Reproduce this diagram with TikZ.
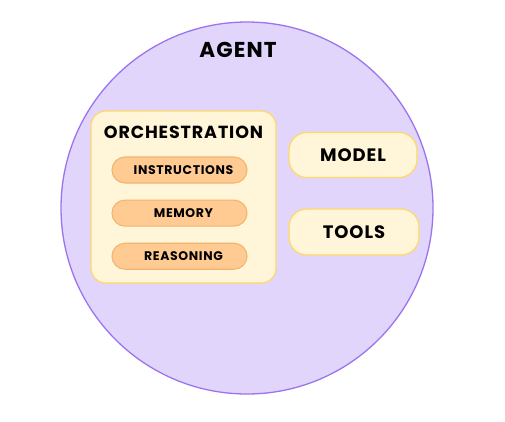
\documentclass[tikz,border=0pt]{standalone}
\usepackage{fontspec}
\setmainfont{Poppins}[LetterSpace=5]
\usetikzlibrary{positioning}
\definecolor{agentfill}{HTML}{E2D5FB}
\definecolor{agentline}{HTML}{9B74EE}
\definecolor{boxfill}{HTML}{FFF5D9}
\definecolor{boxline}{HTML}{FFD966}
\definecolor{pillfill}{HTML}{FFCB93}
\definecolor{pillline}{HTML}{F3B46E}
\tikzset{
    part/.style={draw=boxline, fill=boxfill, line width=1.2pt, rounded corners=18pt,
        minimum width=128pt, minimum height=45pt, font=\bfseries\fontsize{18}{20}\selectfont},
    pill/.style={draw=pillline, fill=pillfill, line width=1.1pt, rounded corners=13pt,
        minimum width=135pt, minimum height=26pt, font=\bfseries\fontsize{12.5}{14}\selectfont}
}

\begin{document}
\begin{tikzpicture}[x=1pt, y=-1pt]
            \useasboundingbox (0,0) rectangle (505,421);
            \fill[white] (0,0) rectangle (505,421);
            \draw[agentline, fill=agentfill, line width=1.3pt] (247,208) circle (186pt);
            \node[font=\bfseries\fontsize{21.5}{24}\selectfont] (agent) at (238,50) {AGENT};
            % orchestration with its three parts
            \node[draw=boxline, fill=boxfill, line width=1.2pt, rounded corners=15pt,
                minimum width=185pt, minimum height=172pt] (orch) at (183.5,197) {};
            \node[font=\bfseries\fontsize{17.5}{20}\selectfont] (orchlabel) at (183.5,132) {ORCHESTRATION};
            \node[pill] (instr) at (179.5,170) {\hspace{8pt}INSTRUCTIONS};
            \node[pill, below=16pt of instr] (mem) {\hspace{8pt}MEMORY};
            \node[pill, below=16pt of mem] (reason) {\hspace{8pt}REASONING};
            \node[part] (model) at (353,155) {MODEL};
            \node[part, minimum width=130pt, minimum height=46pt] (tools) at (354,232) {TOOLS};
        \end{tikzpicture}
\end{document}
